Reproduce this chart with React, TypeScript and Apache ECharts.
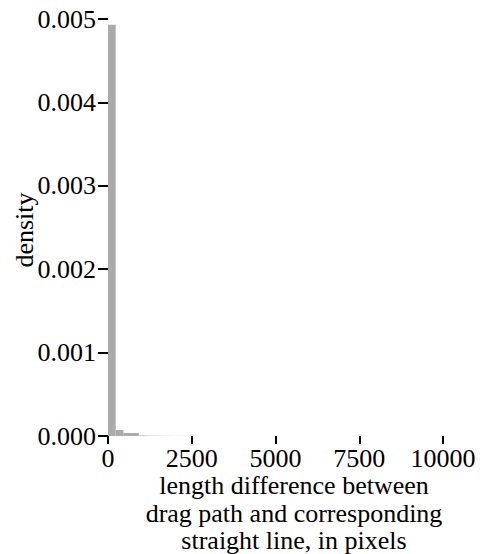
import React, { useEffect, useRef } from 'react';
import * as echarts from 'echarts';

// histogram bins (start of bin, in pixels) and density values
const binWidth = 230;
const binStarts = [0, 230, 460, 690, 920, 1150, 1380, 1610, 1840, 2070, 2300];
const densities = [0.00493, 0.000072, 0.000036, 0.000036, 0.000006, 0.000004, 0.000003, 0.000002, 0.000001, 0.000001, 0.000001];
const xTicks = [0, 2500, 5000, 7500, 10000];
const yTicks = [0, 0.001, 0.002, 0.003, 0.004, 0.005];
const xName = ['length difference between', 'drag path and corresponding', 'straight line, in pixels'];
const yName = 'density';

const FONT = 'serif';

export default function App() {
  const ref = useRef<HTMLDivElement>(null);
  useEffect(() => {
    document.body.style.margin = '0';
    const chart = echarts.init(ref.current!, undefined, { renderer: 'svg' });
    const data = binStarts.map((s, i) => [s, s + binWidth, densities[i]]);
    chart.setOption({
      animation: false,
      textStyle: { fontFamily: FONT },
      grid: { left: 108, right: 37, top: 19, bottom: 118, containLabel: false },
      xAxis: {
        type: 'value',
        min: xTicks[0],
        max: xTicks[xTicks.length - 1],
        interval: 2500,
        axisLine: { show: false },
        axisTick: { show: true, length: 8, lineStyle: { color: '#000', width: 2 } },
        axisLabel: {
          color: '#000', fontFamily: FONT, fontSize: 26, margin: 9,
          formatter: (v: number) => String(v),
        },
        splitLine: { show: false },
      },
      yAxis: {
        type: 'value',
        min: yTicks[0],
        max: yTicks[yTicks.length - 1],
        interval: 0.001,
        axisLine: { show: false },
        axisTick: { show: true, length: 10, lineStyle: { color: '#000', width: 2 } },
        axisLabel: {
          color: '#000', fontFamily: FONT, fontSize: 26, margin: 12,
          formatter: (v: number) => v.toFixed(3),
        },
        splitLine: { show: false },
      },
      series: [
        {
          type: 'custom',
          data,
          encode: { x: [0, 1], y: 2 },
          renderItem: (params: any, api: any) => {
            const s = api.value(0);
            const e = api.value(1);
            const d = api.value(2);
            const p0 = api.coord([s, 0]);
            const p1 = api.coord([e, d]);
            return {
              type: 'rect',
              shape: { x: p0[0], y: p1[1], width: p1[0] - p0[0], height: p0[1] - p1[1] },
              style: { fill: '#ababab' },
            };
          },
        },
      ],
      graphic: [
        {
          type: 'text',
          x: 294,
          y: 513,
          style: {
            text: xName.join('\n'),
            fontFamily: FONT,
            fontSize: 26,
            fill: '#000',
            align: 'center',
            verticalAlign: 'middle',
            lineHeight: 27.5,
          },
        },
        {
          type: 'text',
          x: 24,
          y: 230,
          rotation: Math.PI / 2,
          style: {
            text: yName,
            fontFamily: FONT,
            fontSize: 26,
            fill: '#000',
            align: 'center',
            verticalAlign: 'middle',
          },
        },
      ],
    });
    return () => chart.dispose();
  }, []);
  return <div ref={ref} style={{ width: 480, height: 554 }} />;
}
